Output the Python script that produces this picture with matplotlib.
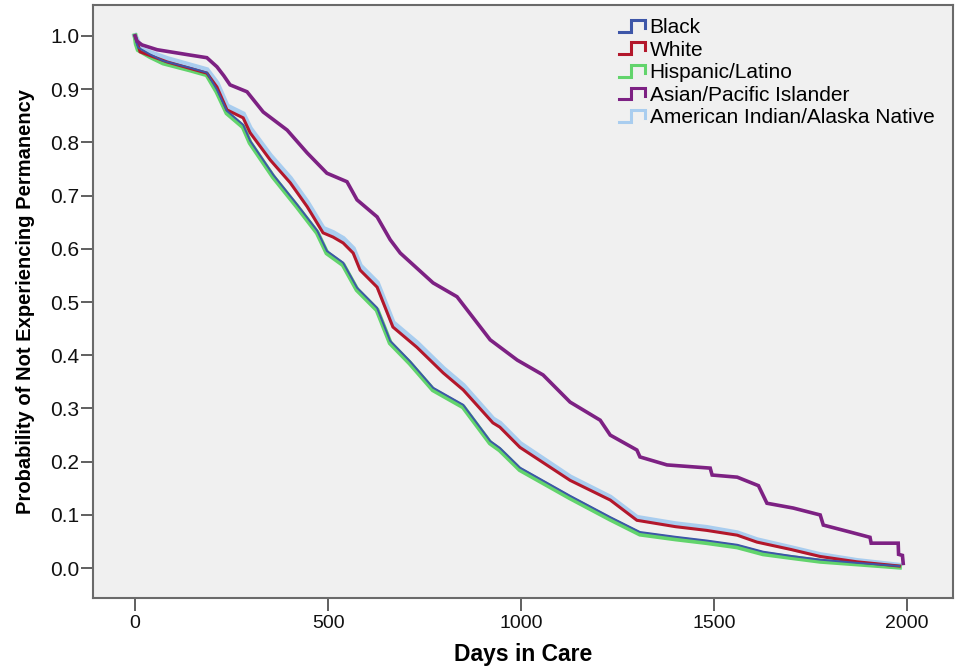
import matplotlib
matplotlib.use("Agg")
import matplotlib.pyplot as plt
from matplotlib.lines import Line2D
from matplotlib.legend_handler import HandlerBase

plt.rcParams['font.family'] = ['Liberation Sans', 'DejaVu Sans']

# ---------------- data ----------------
groups = ["Black", "White", "Hispanic/Latino", "Asian/Pacific Islander",
          "American Indian/Alaska Native"]

black_days = [0, 3, 8, 39, 73, 142, 186, 212, 238, 280, 298, 358, 420, 472, 497,
              539, 575, 627, 661, 712, 772, 850, 920, 945, 997, 1127, 1231, 1308,
              1400, 1481, 1560, 1627, 1700, 1775, 1870, 1980]
black_surv = [1.0, 0.988, 0.978, 0.965, 0.953, 0.940, 0.931, 0.899, 0.859, 0.833,
              0.803, 0.739, 0.683, 0.634, 0.596, 0.574, 0.527, 0.489, 0.427, 0.389,
              0.339, 0.307, 0.239, 0.226, 0.189, 0.136, 0.096, 0.068, 0.059, 0.052,
              0.044, 0.031, 0.023, 0.016, 0.010, 0.004]

white_days = [0, 5, 13, 83, 186, 212, 238, 280, 298, 350, 402, 446, 487, 513, 539,
              565, 583, 627, 668, 730, 798, 850, 927, 945, 997, 1127, 1231, 1300,
              1400, 1481, 1560, 1611, 1700, 1775, 1870, 1980]
white_surv = [1.0, 0.99, 0.97, 0.951, 0.93, 0.904, 0.861, 0.846, 0.818, 0.767, 0.724,
              0.679, 0.63, 0.622, 0.611, 0.592, 0.56, 0.528, 0.453, 0.415, 0.367,
              0.335, 0.273, 0.265, 0.227, 0.165, 0.128, 0.09, 0.078, 0.071, 0.062,
              0.049, 0.035, 0.022, 0.012, 0.004]

hisp_days = [0, 3, 8, 39, 73, 142, 186, 212, 238, 280, 298, 358, 420, 472, 497,
             539, 575, 627, 661, 712, 772, 850, 920, 945, 997, 1127, 1231, 1308,
             1400, 1481, 1560, 1627, 1700, 1775, 1870, 1980]
hisp_surv = [1.0, 0.985, 0.974, 0.961, 0.949, 0.936, 0.927, 0.895, 0.855, 0.829,
             0.799, 0.735, 0.679, 0.63, 0.592, 0.57, 0.523, 0.485, 0.423, 0.385,
             0.335, 0.303, 0.235, 0.222, 0.185, 0.132, 0.092, 0.064, 0.055, 0.048,
             0.04, 0.027, 0.02, 0.013, 0.008, 0.002]

asian_days = [0, 5, 18, 57, 142, 186, 212, 230, 246, 290, 332, 394, 446, 497, 549,
              575, 627, 661, 687, 772, 834, 920, 990, 1057, 1127, 1205, 1231, 1300,
              1308, 1378, 1490, 1495, 1560, 1615, 1625, 1637, 1705, 1775, 1783,
              1852, 1904, 1907, 1977, 1978, 1988, 1990]
asian_surv = [1.0, 0.99, 0.983, 0.974, 0.964, 0.959, 0.942, 0.925, 0.908, 0.895,
              0.857, 0.823, 0.78, 0.742, 0.726, 0.692, 0.66, 0.617, 0.592, 0.536,
              0.51, 0.429, 0.391, 0.363, 0.312, 0.278, 0.25, 0.222, 0.209, 0.194,
              0.188, 0.175, 0.171, 0.155, 0.14, 0.122, 0.113, 0.10, 0.081, 0.068,
              0.058, 0.047, 0.047, 0.026, 0.024, 0.009]

aian_days = [0, 5, 13, 83, 186, 212, 238, 280, 298, 350, 402, 446, 487, 513, 539,
             565, 583, 627, 668, 730, 798, 850, 927, 945, 997, 1127, 1231, 1300,
             1400, 1481, 1560, 1611, 1700, 1775, 1870, 1980]
aian_surv = [1.0, 0.992, 0.975, 0.957, 0.936, 0.911, 0.868, 0.853, 0.826, 0.775,
             0.732, 0.687, 0.638, 0.630, 0.619, 0.600, 0.568, 0.536, 0.461, 0.423,
             0.375, 0.343, 0.280, 0.272, 0.234, 0.171, 0.133, 0.095, 0.083, 0.076,
             0.066, 0.053, 0.038, 0.025, 0.014, 0.005]

x_ticks = [0, 500, 1000, 1500, 2000]
y_ticks = [0.0, 0.1, 0.2, 0.3, 0.4, 0.5, 0.6, 0.7, 0.8, 0.9, 1.0]

# ---------------- styling ----------------
colors = {
    "Black": "#3d56a8",
    "White": "#b3172b",
    "Hispanic/Latino": "#62d46c",
    "Asian/Pacific Islander": "#7d2183",
    "American Indian/Alaska Native": "#a9cdef",
}

fig = plt.figure(figsize=(9.62, 6.67), dpi=100)
ax = fig.add_axes([93 / 962, 1 - 598 / 667, 860 / 962, 593 / 667])
ax.set_facecolor("#f0f0f0")

ax.plot(aian_days, aian_surv, color=colors["American Indian/Alaska Native"], lw=4.0,
        zorder=2, solid_joinstyle="miter")
ax.plot(hisp_days, hisp_surv, color=colors["Hispanic/Latino"], lw=3.6, zorder=2,
        solid_joinstyle="miter")
ax.plot(white_days, white_surv, color=colors["White"], lw=2.2, zorder=3,
        solid_joinstyle="miter")
ax.plot(black_days, black_surv, color=colors["Black"], lw=1.4, zorder=3,
        solid_joinstyle="miter")
ax.plot(asian_days, asian_surv, color=colors["Asian/Pacific Islander"], lw=2.6,
        zorder=3, solid_joinstyle="miter")

ax.set_xlim(-109, 2119)
ax.set_ylim(-0.056, 1.058)
ax.set_xticks(x_ticks)
ax.set_xticklabels([str(t) for t in x_ticks])
ax.set_yticks(y_ticks)
ax.set_yticklabels([f"{t:.1f}" for t in y_ticks])
ax.tick_params(axis="both", direction="out", length=9, width=1.2, color="#444444",
               labelcolor="#111111")
ax.tick_params(axis="x", pad=3, labelsize=14)
ax.tick_params(axis="y", pad=1, labelsize=15)
for s in ax.spines.values():
    s.set_color("#6a6a6a")
    s.set_linewidth(1.5)

ax.set_xlabel("Days in Care", fontsize=16.5, fontweight="bold", labelpad=8)
ax.set_ylabel("Probability of Not Experiencing Permanency", fontsize=14.5,
              fontweight="bold", labelpad=11)


class StepHandler(HandlerBase):
    def create_artists(self, legend, orig_handle, xdescent, ydescent, width,
                       height, fontsize, trans):
        x0 = -xdescent
        y0 = -ydescent
        xs = [x0, x0 + 0.45 * width, x0 + 0.45 * width, x0 + width, x0 + width]
        ys = [y0 + 0.1 * height, y0 + 0.1 * height, y0 + 0.9 * height,
              y0 + 0.9 * height, y0 + 0.35 * height]
        ln = Line2D(xs, ys, color=orig_handle.get_color(), lw=2.2,
                    solid_joinstyle="miter", transform=trans)
        return [ln]


handles = [Line2D([], [], color=colors[g]) for g in groups]
leg = ax.legend(handles, groups, loc="upper left", bbox_to_anchor=(0.612, 0.978),
                frameon=False, fontsize=15, handlelength=1.25, handletextpad=0.2,
                labelspacing=0.17, borderpad=0, borderaxespad=0,
                handler_map={Line2D: StepHandler()})

fig.savefig("out.png", dpi=100, facecolor="white")
